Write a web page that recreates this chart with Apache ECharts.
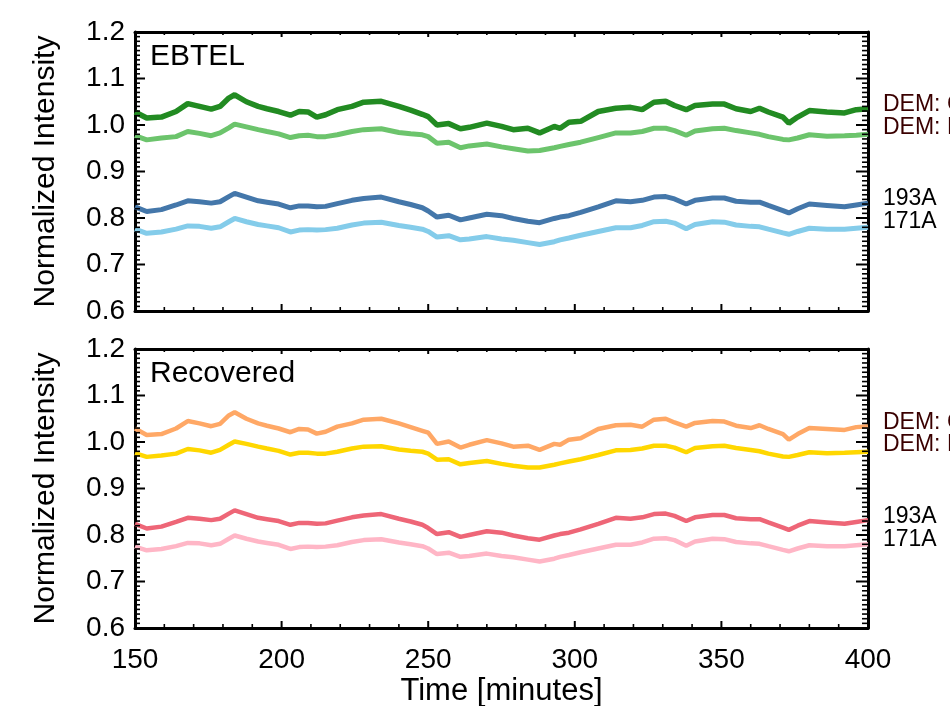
<!DOCTYPE html>
<html>
<head>
<meta charset="utf-8">
<script src="https://cdn.jsdelivr.net/npm/echarts@6/dist/echarts.min.js"></script>
<style>
html,body{margin:0;padding:0;background:#fff;}
#chart{width:950px;height:706px;}
</style>
</head>
<body>
<div id="chart"></div>
<script>
// Time (minutes)
var time = [150,154,159,164,168,172,176,179,182,184,188,192,195,199,203,206,209,212,215,219,224,228,234,240,244,248,250,253,257,261,264,270,275,279,284,288,293,295,298,302,308,314,319,323,327,331,334,338,341,347,351,355,360,363,366,371,373,376,380,386,392,396,400];

// EBTEL panel
var ebtelDem1 = [1.028,1.015,1.017,1.029,1.046,1.040,1.034,1.040,1.058,1.065,1.050,1.040,1.035,1.029,1.021,1.029,1.028,1.017,1.022,1.033,1.040,1.049,1.051,1.040,1.032,1.023,1.018,1.000,1.003,0.992,0.995,1.004,0.997,0.990,0.993,0.983,0.997,0.993,1.006,1.008,1.029,1.036,1.038,1.033,1.049,1.051,1.042,1.033,1.042,1.045,1.045,1.035,1.029,1.036,1.028,1.017,1.004,1.017,1.031,1.028,1.026,1.033,1.035];
var ebtelDem2 = [0.977,0.968,0.972,0.975,0.986,0.982,0.977,0.983,0.994,1.002,0.996,0.990,0.986,0.981,0.973,0.977,0.978,0.975,0.975,0.979,0.986,0.990,0.992,0.984,0.981,0.979,0.975,0.961,0.963,0.951,0.955,0.959,0.953,0.949,0.944,0.945,0.951,0.954,0.958,0.963,0.973,0.983,0.983,0.986,0.993,0.993,0.988,0.978,0.987,0.992,0.993,0.988,0.983,0.980,0.975,0.969,0.968,0.972,0.979,0.976,0.977,0.978,0.980];
var ebtel193 = [0.824,0.814,0.818,0.828,0.837,0.835,0.832,0.835,0.846,0.853,0.845,0.837,0.834,0.830,0.822,0.826,0.826,0.824,0.825,0.831,0.838,0.842,0.845,0.835,0.829,0.822,0.815,0.802,0.806,0.796,0.800,0.808,0.805,0.799,0.793,0.790,0.799,0.802,0.805,0.812,0.824,0.837,0.835,0.838,0.845,0.846,0.841,0.830,0.838,0.843,0.843,0.836,0.834,0.834,0.827,0.816,0.811,0.820,0.830,0.827,0.824,0.828,0.832];
var ebtel171 = [0.776,0.767,0.770,0.776,0.783,0.782,0.778,0.781,0.792,0.799,0.792,0.786,0.783,0.779,0.770,0.774,0.775,0.774,0.775,0.778,0.785,0.789,0.791,0.784,0.780,0.776,0.771,0.759,0.762,0.753,0.755,0.760,0.755,0.752,0.747,0.743,0.749,0.753,0.757,0.763,0.771,0.779,0.779,0.784,0.792,0.793,0.789,0.777,0.786,0.792,0.791,0.785,0.782,0.781,0.776,0.768,0.765,0.771,0.778,0.776,0.776,0.778,0.780];

// Recovered panel
var recDem1 = [1.029,1.015,1.017,1.029,1.045,1.040,1.034,1.039,1.057,1.064,1.050,1.040,1.035,1.029,1.021,1.028,1.027,1.018,1.022,1.033,1.040,1.048,1.050,1.040,1.032,1.024,1.020,0.996,1.001,0.988,0.994,1.004,0.997,0.990,0.992,0.983,0.996,0.994,1.005,1.008,1.028,1.036,1.037,1.033,1.048,1.050,1.042,1.033,1.041,1.045,1.044,1.035,1.030,1.036,1.028,1.017,1.005,1.017,1.030,1.028,1.026,1.032,1.034];
var recDem2 = [0.976,0.968,0.971,0.975,0.985,0.982,0.977,0.983,0.994,1.001,0.996,0.990,0.986,0.981,0.973,0.977,0.977,0.975,0.975,0.979,0.986,0.990,0.991,0.984,0.981,0.979,0.975,0.962,0.963,0.952,0.955,0.959,0.953,0.949,0.945,0.945,0.951,0.954,0.958,0.963,0.972,0.982,0.983,0.986,0.992,0.992,0.988,0.978,0.987,0.991,0.992,0.987,0.983,0.980,0.975,0.969,0.968,0.972,0.978,0.976,0.977,0.978,0.979];
var rec193 = [0.824,0.814,0.818,0.828,0.837,0.835,0.832,0.835,0.846,0.853,0.845,0.837,0.834,0.830,0.822,0.826,0.826,0.824,0.825,0.831,0.838,0.842,0.845,0.835,0.829,0.822,0.815,0.802,0.806,0.796,0.800,0.808,0.805,0.799,0.793,0.790,0.799,0.802,0.805,0.812,0.824,0.837,0.835,0.838,0.845,0.846,0.841,0.830,0.838,0.843,0.843,0.836,0.834,0.834,0.827,0.816,0.811,0.820,0.830,0.827,0.824,0.828,0.832];
var rec171 = [0.775,0.767,0.770,0.776,0.783,0.782,0.778,0.781,0.792,0.799,0.792,0.786,0.783,0.779,0.770,0.774,0.775,0.774,0.775,0.778,0.785,0.789,0.791,0.784,0.780,0.776,0.771,0.759,0.762,0.753,0.755,0.760,0.755,0.752,0.747,0.743,0.749,0.753,0.757,0.763,0.771,0.779,0.779,0.784,0.792,0.793,0.789,0.777,0.786,0.792,0.791,0.785,0.782,0.781,0.776,0.768,0.765,0.771,0.778,0.776,0.776,0.778,0.780];

var xTicks = [150, 200, 250, 300, 350, 400];
var yTicks = [0.6, 0.7, 0.8, 0.9, 1.0, 1.1, 1.2];
var panelTitles = ['EBTEL', 'Recovered'];
var rightLabels = ['DEM: Cool', 'DEM: Hot', '193A', '171A'];
var xTitle = 'Time [minutes]';
var yTitle = 'Normalized Intensity';

var FONT = '"Liberation Sans", Arial, Helvetica, sans-serif';
var XMIN = xTicks[0], XMAX = xTicks[xTicks.length-1];
var YMIN = yTicks[0], YMAX = yTicks[yTicks.length-1];

function pairs(v){ return time.map(function(t,i){ return [t, v[i]]; }); }

var grids = [
  {left:135, right:82, top:32, height:279, containLabel:false, outerBoundsMode:'none'},
  {left:135, right:82, top:349, height:279, containLabel:false, outerBoundsMode:'none'}
];

function xAx(g, pos, showLabel){
  return {
    type:'value', gridIndex:g, position:pos, min:XMIN, max:XMAX, interval:50,
    name: (showLabel ? xTitle : ''), nameLocation:'middle', nameGap:48,
    nameTextStyle:{fontSize:31, color:'#000', fontFamily:FONT},
    axisLine:{show:true, onZero:false, lineStyle:{color:'#000', width:3}},
    axisTick:{show:false},
    axisLabel:{show:showLabel, fontSize:28, color:'#000', margin:18, fontFamily:FONT},
    splitLine:{show:false}
  };
}
function yAx(g, pos, showLabel){
  return {
    type:'value', gridIndex:g, position:pos, min:YMIN, max:YMAX, interval:0.1,
    name: (showLabel ? yTitle : ''), nameLocation:'middle', nameGap:74, nameRotate:90,
    nameTextStyle:{fontSize:30, color:'#000', fontFamily:FONT},
    axisLine:{show:true, onZero:false, lineStyle:{color:'#000', width:3}},
    axisTick:{show:false},
    axisLabel:{show:showLabel, fontSize:28, color:'#000', margin:10, fontFamily:FONT,
      formatter:function(v){ return (Math.round(v*10)/10).toFixed(1); }},
    splitLine:{show:false}
  };
}

var xAxes = [xAx(0,'bottom',false), xAx(0,'top',false), xAx(1,'bottom',true), xAx(1,'top',false)];
var yAxes = [yAx(0,'left',true), yAx(0,'right',false), yAx(1,'left',true), yAx(1,'right',false)];

function line(name, data, color, width, xi, yi){
  return {type:'line', name:name, data:pairs(data), xAxisIndex:xi, yAxisIndex:yi,
    showSymbol:false, smooth:false, lineStyle:{color:color, width:width}};
}

var series = [
  line('EBTEL DEM 1', ebtelDem1, '#228B22', 5.5, 0, 0),
  line('EBTEL DEM 2', ebtelDem2, '#6CC46C', 5, 0, 0),
  line('EBTEL 193A', ebtel193, '#4477AA', 5, 0, 0),
  line('EBTEL 171A', ebtel171, '#84CCEA', 5, 0, 0),
  line('Recovered DEM 1', recDem1, '#FFA866', 4.5, 2, 2),
  line('Recovered DEM 2', recDem2, '#FFD700', 4.5, 2, 2),
  line('Recovered 193A', rec193, '#EE6677', 4.5, 2, 2),
  line('Recovered 171A', rec171, '#FFB6C6', 4.5, 2, 2)
];

function lbl(x, y, s, color, size){
  return {type:'text', x:x, y:y, z:100,
    style:{text:s, fill:color, font:size+'px '+FONT, verticalAlign:'middle'}};
}
var graphics = [
  lbl(150, 57, panelTitles[0], '#000', 30),
  lbl(150, 374, panelTitles[1], '#000', 30),
  lbl(883, 105, rightLabels[0], '#3a0000', 23),
  lbl(883, 128, rightLabels[1], '#3a0000', 23),
  lbl(883, 199, rightLabels[2], '#000', 23),
  lbl(883, 222, rightLabels[3], '#000', 23),
  lbl(883, 423, rightLabels[0], '#3a0000', 23),
  lbl(883, 445, rightLabels[1], '#3a0000', 23),
  lbl(883, 517, rightLabels[2], '#000', 23),
  lbl(883, 540, rightLabels[3], '#000', 23)
];

var chart = echarts.init(document.getElementById('chart'), null, {renderer:'canvas'});
chart.setOption({
  backgroundColor:'#fff',
  animation:false,
  grid:grids,
  xAxis:xAxes,
  yAxis:yAxes,
  series:series,
  graphic:graphics
});

// Tick marks: positions obtained from the axes' own scales (convertToPixel)
function seg(x1, y1, x2, y2, w){
  return {type:'line', z:60, silent:true,
    shape:{x1:x1, y1:y1, x2:x2, y2:y2},
    style:{stroke:'#000', lineWidth:w}};
}
var tickGfx = [];
for (var g = 0; g < 2; g++) {
  var finder = {xAxisIndex:g*2, yAxisIndex:g*2};
  var i, v, major, a, b;
  for (i = 0; i <= 60; i++) {
    v = Math.round(600 + i*10)/1000;
    major = (i % 10 === 0);
    a = chart.convertToPixel(finder, [XMIN, v]);
    b = chart.convertToPixel(finder, [XMAX, v]);
    if (!a || !b) continue;
    tickGfx.push(seg(a[0], a[1], a[0] + (major ? 10 : 5), a[1], major ? 2 : 1.6));
    tickGfx.push(seg(b[0], b[1], b[0] - (major ? 12 : 6), b[1], major ? 2 : 1.6));
  }
  for (i = 0; i <= 25; i++) {
    v = XMIN + i*10;
    major = (i % 5 === 0);
    a = chart.convertToPixel(finder, [v, YMIN]);
    b = chart.convertToPixel(finder, [v, YMAX]);
    if (!a || !b) continue;
    tickGfx.push(seg(a[0], a[1], a[0], a[1] - (major ? 7 : 4), major ? 2 : 1.6));
    tickGfx.push(seg(b[0], b[1], b[0], b[1] + (major ? 5 : 3), major ? 2 : 1.6));
  }
}
chart.setOption({graphic: graphics.concat(tickGfx)});
</script>
</body>
</html>
